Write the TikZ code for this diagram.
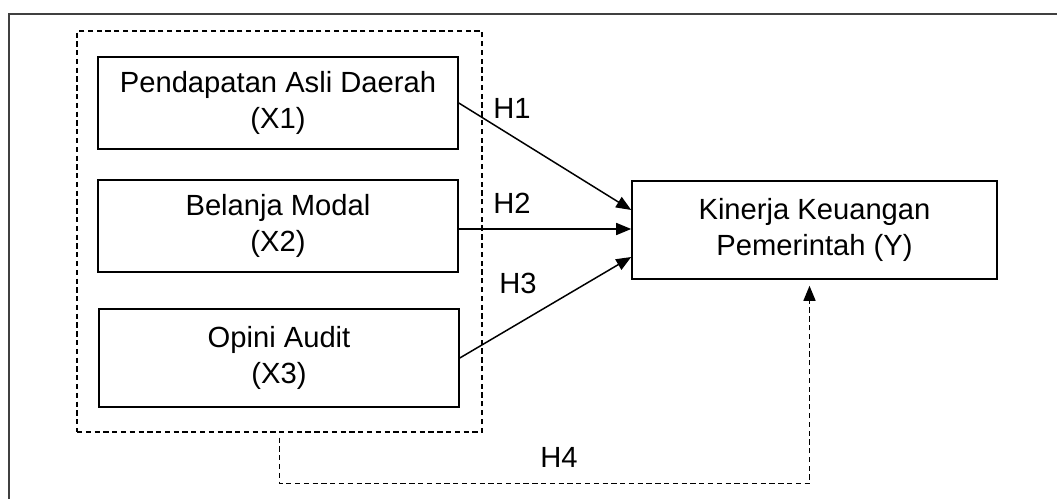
\documentclass[tikz,border=0pt]{standalone}
\usepackage{fontspec}
\setmainfont{Liberation Sans}
\usetikzlibrary{arrows.meta}

\tikzset{
  varbox/.style={draw, line width=0.9pt, minimum width=7.2cm, minimum height=1.84cm, align=center, inner sep=0pt},
  hyp/.style={line width=0.85pt, -{Triangle[length=0.3cm,width=0.24cm]}},
  grpbox/.style={draw, line width=0.7pt, dash pattern=on 3pt off 2pt, minimum width=8.1cm, minimum height=8.02cm}
}

\begin{document}
\begin{tikzpicture}[font=\fontsize{16.6}{20.5}\selectfont]
\useasboundingbox (0,0) rectangle (21.14,9.96);
\draw[line width=1pt, black!75] (0.18,-0.2)--(0.18,9.68)--(21.4,9.68);
\node[grpbox] (grp) at (5.59,5.33) {};
\node[varbox] (x1) at (5.56,7.90) {Pendapatan Asli Daerah\\(X1)};
\node[varbox] (x2) at (5.56,5.44) {Belanja Modal\\(X2)};
\node[varbox, minimum height=1.96cm] (x3) at (5.58,2.80) {Opini Audit\\(X3)};
\node[varbox, minimum width=7.3cm, minimum height=1.96cm] (yk) at (16.29,5.36) {Kinerja Keuangan\\Pemerintah (Y)};
% hypotheses
\draw[hyp] (x1.east) -- ([yshift=.4cm]yk.west);
\draw[hyp] ([yshift=-.06cm]x2.east) -- ([yshift=-.06cm]x2.east -| yk.west);
\draw[hyp] (x3.east) -- ([yshift=-.54cm]yk.west);
\draw[hyp, dash pattern=on 3pt off 2pt, shorten <=.1cm, shorten >=.12cm] (grp.south) -- ++(0,-1.02) -| ([xshift=-.1cm]yk.south);
\node (h1) at (10.24,7.80) {H1};
\node (h2) at (10.24,5.90) {H2};
\node (h3) at (10.36,4.30) {H3};
\node (h4) at (11.18,0.82) {H4};
\end{tikzpicture}
\end{document}
